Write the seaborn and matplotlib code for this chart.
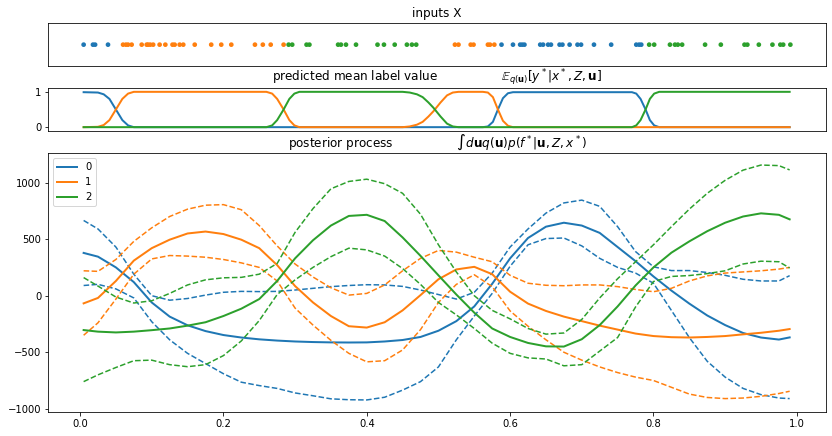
import numpy as np
import pandas as pd
import matplotlib
matplotlib.use("Agg")
import matplotlib.pyplot as plt
import seaborn as sns

# inputs X, one list per class
x_class0 = [0.005, 0.018, 0.021, 0.039, 0.588, 0.604, 0.614, 0.617, 0.620, 0.642, 0.646,
            0.653, 0.657, 0.669, 0.673, 0.683, 0.694, 0.699, 0.717, 0.741, 0.776, 0.780, 0.783]
x_class1 = [0.060, 0.064, 0.067, 0.072, 0.086, 0.093, 0.095, 0.098, 0.102, 0.111, 0.119,
            0.129, 0.132, 0.139, 0.144, 0.160, 0.183, 0.197, 0.211, 0.244, 0.255, 0.266,
            0.284, 0.523, 0.528, 0.545, 0.549, 0.569, 0.572, 0.578]
x_class2 = [0.291, 0.296, 0.316, 0.320, 0.360, 0.364, 0.371, 0.385, 0.415, 0.424, 0.439,
            0.456, 0.463, 0.469, 0.794, 0.801, 0.823, 0.830, 0.834, 0.840, 0.872, 0.894,
            0.927, 0.931, 0.947, 0.966, 0.977, 0.981, 0.991]

# predicted mean label value
x_mid = [0.005, 0.025, 0.033, 0.041, 0.050, 0.059, 0.067, 0.075,
         0.260, 0.268, 0.275, 0.284, 0.292, 0.299, 0.306,
         0.450, 0.460, 0.470, 0.478, 0.486, 0.493, 0.503, 0.512, 0.520, 0.528,
         0.562, 0.569, 0.576, 0.583, 0.590, 0.597, 0.604,
         0.770, 0.776, 0.782, 0.789, 0.795, 0.801, 0.808, 0.990]
p_class0 = [0.99, 0.98, 0.93, 0.80, 0.50, 0.20, 0.05, 0.00,
            0.00, 0.00, 0.00, 0.00, 0.00, 0.00, 0.00,
            0.00, 0.00, 0.00, 0.00, 0.00, 0.00, 0.00, 0.00, 0.00, 0.00,
            0.00, 0.02, 0.15, 0.50, 0.82, 0.96, 0.99,
            0.99, 0.95, 0.80, 0.50, 0.20, 0.05, 0.00, 0.00]
p_class1 = [0.00, 0.01, 0.06, 0.20, 0.50, 0.80, 0.95, 1.00,
            1.00, 0.95, 0.80, 0.50, 0.20, 0.05, 0.00,
            0.00, 0.02, 0.07, 0.15, 0.30, 0.45, 0.70, 0.90, 0.98, 1.00,
            1.00, 0.98, 0.85, 0.50, 0.18, 0.04, 0.00,
            0.00, 0.00, 0.00, 0.00, 0.00, 0.00, 0.00, 0.00]
p_class2 = [0.00, 0.00, 0.00, 0.00, 0.00, 0.00, 0.00, 0.00,
            0.00, 0.05, 0.20, 0.50, 0.80, 0.95, 1.00,
            1.00, 0.98, 0.93, 0.85, 0.70, 0.55, 0.30, 0.10, 0.02, 0.00,
            0.00, 0.00, 0.00, 0.00, 0.00, 0.00, 0.00,
            0.00, 0.05, 0.20, 0.50, 0.80, 0.95, 1.00, 1.00]

# posterior process: mean and +-2 sd curves
x_post = [0.005, 0.025, 0.05, 0.075, 0.1, 0.125, 0.15, 0.175, 0.2, 0.225, 0.25, 0.275,
          0.3, 0.325, 0.35, 0.375, 0.4, 0.425, 0.45, 0.475, 0.5, 0.525, 0.55, 0.575,
          0.6, 0.625, 0.65, 0.675, 0.7, 0.725, 0.75, 0.775, 0.8, 0.825, 0.85, 0.875,
          0.9, 0.925, 0.95, 0.975, 0.99]
mean0 = [378, 345, 250, 120, -60, -185, -262, -313, -348, -370, -386, -397,
         -405, -410, -413, -414, -413, -405, -392, -365, -310, -225, -95, 105,
         330, 510, 610, 645, 620, 555, 430, 305, 170, 45, -70, -175,
         -260, -330, -370, -388, -369]
upper0 = [665, 590, 430, 190, 0, -40, -25, 5, 30, 38, 36, 38,
          50, 65, 80, 90, 97, 95, 82, 50, 10, -30, 30, 200,
          430, 590, 730, 820, 845, 790, 610, 390, 255, 222, 222, 205,
          180, 145, 130, 130, 177]
lower0 = [90, 100, 60, -20, -230, -390, -510, -600, -690, -765, -795, -820,
          -860, -885, -912, -920, -922, -898, -835, -760, -630, -390, -180, 20,
          260, 450, 505, 510, 440, 330, 250, 200, 110, -130, -370, -580,
          -720, -820, -875, -905, -910]
mean1 = [-68, -20, 130, 310, 420, 495, 550, 567, 545, 495, 420, 270,
         85, -60, -180, -270, -282, -235, -130, 5, 145, 232, 255, 190,
         35, -70, -135, -185, -225, -265, -300, -335, -357, -367, -370, -365,
         -357, -342, -328, -310, -295]
upper1 = [220, 215, 320, 480, 600, 700, 765, 800, 805, 760, 620, 440,
          280, 165, 70, 5, 20, 95, 220, 330, 400, 385, 340, 300,
          180, 110, 92, 88, 95, 95, 80, 55, 35, 65, 130, 175,
          200, 210, 220, 235, 250]
lower1 = [-350, -240, -30, 190, 325, 355, 350, 340, 320, 290, 250, 130,
          -110, -260, -395, -510, -585, -575, -480, -300, -60, 100, 185, 80,
          -135, -270, -390, -500, -570, -630, -680, -720, -750, -810, -870, -900,
          -910, -905, -890, -865, -845]
mean2 = [-304, -318, -325, -318, -305, -290, -265, -235, -180, -115, -30, 130,
         330, 490, 620, 705, 715, 660, 515, 352, 180, 10, -150, -290,
         -365, -418, -448, -450, -385, -260, -95, 90, 250, 380, 480, 570,
         645, 700, 728, 715, 675]
upper2 = [160, 85, -12, -65, -45, 20, 95, 140, 158, 162, 190, 285,
          560, 770, 945, 1010, 1030, 990, 905, 720, 450, 210, 0, -130,
          -205, -290, -340, -330, -210, -20, 150, 300, 450, 610, 765, 905,
          1020, 1110, 1155, 1150, 1112]
lower2 = [-760, -700, -635, -575, -570, -610, -628, -610, -530, -400, -220, 10,
          140, 250, 345, 420, 405, 350, 240, 100, -60, -170, -290, -420,
          -510, -550, -560, -620, -610, -490, -370, -100, 125, 170, 178, 195,
          220, 280, 305, 300, 245]

colors = ['#1f77b4', '#ff7f0e', '#2ca02c']
labels = ['0', '1', '2']

inputs = pd.DataFrame({'x': x_class0 + x_class1 + x_class2,
                       'label': ['0'] * len(x_class0) + ['1'] * len(x_class1) + ['2'] * len(x_class2)})
inputs['y'] = 0.0

W, H = 832, 436
fig = plt.figure(figsize=(W / 72, H / 72), dpi=72)
ax_main = fig.add_axes([48.3 / W, 1 - 411.7 / H, 777.4 / W, 258.4 / H])
ax_top = fig.add_axes([48.3 / W, 1 - 66.0 / H, 777.4 / W, 42.7 / H], sharex=ax_main)
ax_mid = fig.add_axes([48.3 / W, 1 - 130.7 / H, 777.4 / W, 42.4 / H], sharex=ax_main)

# inputs X
sns.scatterplot(data=inputs, x='x', y='y', hue='label', palette=colors, s=22,
                linewidth=0, legend=False, ax=ax_top)
ax_top.set_xlabel('')
ax_top.set_ylabel('')
ax_top.set_ylim(-0.055, 0.055)
ax_top.tick_params(left=False, bottom=False, labelleft=False, labelbottom=False)
ax_top.set_title('inputs X')

# predicted mean label
for p, c in zip([p_class0, p_class1, p_class2], colors):
    sns.lineplot(x=x_mid, y=p, color=c, lw=2, ax=ax_mid)
ax_mid.set_ylim(-0.1, 1.1)
ax_mid.set_yticks([0, 1])
ax_mid.tick_params(bottom=False, labelbottom=False)
ax_mid.set_title('predicted mean label value' + ' ' * 17 +
                 r'$\mathbb{E}_{q(\mathbf{u})}[y^*|x^*, Z, \mathbf{u}]$')

# posterior process
means = [mean0, mean1, mean2]
uppers = [upper0, upper1, upper2]
lowers = [lower0, lower1, lower2]
handles = []
for m, u, l, c, lab in zip(means, uppers, lowers, colors, labels):
    sns.lineplot(x=x_post, y=m, color=c, lw=2, ax=ax_main)
    handles.append(ax_main.lines[-1])
    handles[-1].set_label(lab)
    sns.lineplot(x=x_post, y=u, color=c, lw=1.5, linestyle='--', ax=ax_main)
    sns.lineplot(x=x_post, y=l, color=c, lw=1.5, linestyle='--', ax=ax_main)
ax_main.legend(handles=handles, loc='upper left')
ax_main.set_title('posterior process' + ' ' * 17 +
                  r'$\int d\mathbf{u} q(\mathbf{u}) p(f^*|\mathbf{u}, Z, x^*)$')

fig.savefig('out.png', dpi=72)
